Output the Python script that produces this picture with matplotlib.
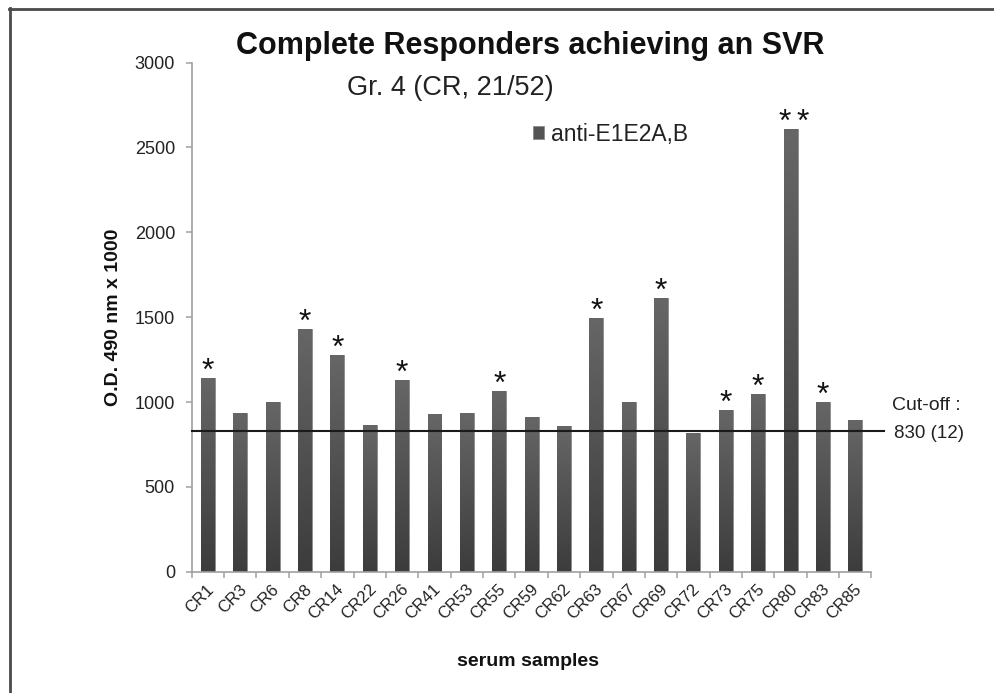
import numpy as np
import matplotlib
matplotlib.use("Agg")
import matplotlib.pyplot as plt
from matplotlib.colors import LinearSegmentedColormap
from matplotlib.lines import Line2D
from matplotlib.patches import Patch
import matplotlib.transforms as mtransforms

plt.rcParams['font.family'] = ['Liberation Sans', 'DejaVu Sans']

# Serum samples and their anti-E1E2A,B reactivity (O.D. 490 nm x 1000)
samples = ["CR1", "CR3", "CR6", "CR8", "CR14", "CR22", "CR26", "CR41", "CR53",
           "CR55", "CR59", "CR62", "CR63", "CR67", "CR69", "CR72", "CR73",
           "CR75", "CR80", "CR83", "CR85"]
od_values = [1143, 933, 1002, 1428, 1277, 866, 1130, 927, 933, 1065, 910,
             859, 1493, 999, 1614, 818, 954, 1050, 2609, 999, 893]
# number of significance asterisks above each bar
n_stars = [1, 0, 0, 1, 1, 0, 1, 0, 0, 1, 0, 0, 1, 0, 1, 0, 1, 1, 2, 1, 0]
cutoff = 830
cutoff_label = ["Cut-off :", "830 (12)"]
y_ticks = [0, 500, 1000, 1500, 2000, 2500, 3000]

W, H = 994, 693
fig = plt.figure(figsize=(W / 100, H / 100), dpi=100)


def fx(px):
    return px / W


def fy(py):
    return 1 - py / H


left, right, bottom, top = 191.7, 871.5, 571.7, 62.6
ax = fig.add_axes([fx(left), fy(bottom), fx(right - left), (bottom - top) / H])

# Slide frame (top and left edges)
fig.add_artist(Line2D([fx(9), 1.0], [fy(8.5), fy(8.5)], color="#4a4a4a", lw=2,
                      transform=fig.transFigure))
fig.add_artist(Line2D([fx(10), fx(10)], [fy(8), 0.0], color="#4a4a4a", lw=2,
                      transform=fig.transFigure))

x = np.arange(len(samples))
bar_color = "#545454"
bars = ax.bar(x, od_values, width=0.43, color=bar_color, edgecolor="#8a8a8a",
              linewidth=0.6, zorder=2)

# Vertical shading inside each bar: darker at the base, lighter at the top
shade = LinearSegmentedColormap.from_list("shade", ["#3c3c3c", "#666666"])
grad = np.linspace(0, 1, 256).reshape(-1, 1)
for rect in bars:
    x0 = rect.get_x()
    w = rect.get_width()
    h = rect.get_height()
    im = ax.imshow(grad, cmap=shade, origin="lower", aspect="auto",
                   extent=(x0, x0 + w, 0, h), zorder=2.5)
    im.set_clip_path(rect)

ax.set_xlim(-0.5, len(samples) - 0.5)
ax.set_ylim(0, 3000)

# Significance marks above the bars
for xi, v, n in zip(x, od_values, n_stars):
    offsets = [0] if n == 1 else [-9 * (n - 1) + 18 * k + 3 for k in range(n)]
    for dx in offsets:
        ax.annotate("*", (xi, v), xytext=(dx, -2), textcoords="offset pixels",
                    ha="center", va="baseline", fontsize=23, color="#111111",
                    zorder=4)

# Cut-off line, running a little past the plot area
ax.plot([-0.5, -0.5 + (884 - left) / ((right - left) / len(samples))],
        [cutoff, cutoff], color="#1a1a1a", lw=1.5, clip_on=False, zorder=3)
fig.text(fx(892), fy(405), cutoff_label[0], fontsize=14, ha="left",
         va="center", color="#222222")
fig.text(fx(894), fy(433), cutoff_label[1], fontsize=13.5, ha="left",
         va="center", color="#222222")

# Axes styling
for side in ("top", "right"):
    ax.spines[side].set_visible(False)
for side in ("left", "bottom"):
    ax.spines[side].set_color("#a0a0a0")
    ax.spines[side].set_linewidth(1.2)

ax.set_yticks(y_ticks)
ax.set_yticklabels([str(t) for t in y_ticks])
ax.tick_params(axis="y", direction="out", length=4, width=1.1, color="#a0a0a0",
               labelsize=13, labelcolor="#222222", pad=8)

ax.set_xticks(x)
ax.set_xticklabels(samples)
ax.set_xticks(np.arange(len(samples) + 1) - 0.5, minor=True)
ax.tick_params(axis="x", which="major", length=0, labelsize=12,
               labelcolor="#222222", pad=11)
ax.tick_params(axis="x", which="minor", direction="out", length=4, width=1.1,
               color="#a0a0a0")
shift = mtransforms.ScaledTranslation(4 / 100, 0, fig.dpi_scale_trans)
for lab in ax.get_xticklabels():
    lab.set_rotation(45)
    lab.set_ha("right")
    lab.set_va("center")
    lab.set_rotation_mode("anchor")
    lab.set_transform(lab.get_transform() + shift)

# Titles and axis labels
fig.text(fx(530), fy(46), "Complete Responders achieving an SVR", fontsize=22,
         fontweight="bold", ha="center", va="center", color="#111111")
fig.text(fx(450), fy(88), "Gr. 4 (CR, 21/52)", fontsize=19.5, ha="center",
         va="center", color="#222222")
fig.text(fx(113), fy(317), "O.D. 490 nm x 1000", fontsize=14, fontweight="bold",
         rotation=90, ha="center", va="center", color="#111111")
fig.text(fx(528), fy(661), "serum samples", fontsize=14, fontweight="bold",
         ha="center", va="center", color="#111111")

# Legend
fig.legend(handles=[Patch(facecolor=bar_color, edgecolor="#8a8a8a", lw=0.6)],
           labels=["anti-E1E2A,B"], loc="center left",
           bbox_to_anchor=(fx(533), fy(134)), frameon=False, fontsize=16.5,
           handlelength=0.5, handleheight=0.5, handletextpad=0.3,
           borderpad=0, borderaxespad=0, labelcolor="#222222")

fig.savefig("out.png", dpi=100)
